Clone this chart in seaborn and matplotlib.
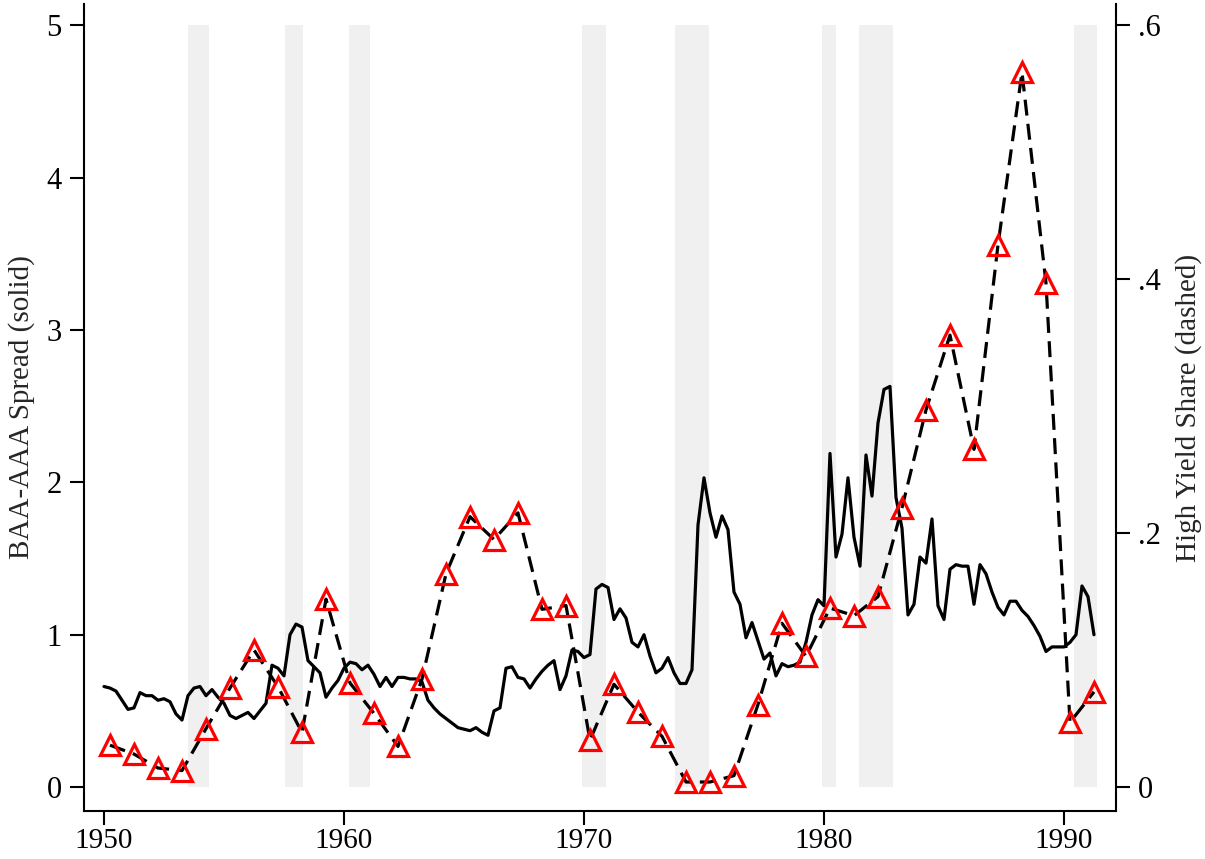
import matplotlib
matplotlib.use("Agg")
import matplotlib.pyplot as plt
import numpy as np
import seaborn as sns

# quarterly BAA-AAA spread, 1950Q1 - 1991Q2
spread = [
    0.66, 0.65, 0.63, 0.57, 0.51, 0.52, 0.62, 0.60, 0.60, 0.57,
    0.58, 0.56, 0.48, 0.44, 0.60, 0.65, 0.66, 0.60, 0.64, 0.59,
    0.55, 0.47, 0.45, 0.47, 0.49, 0.45, 0.50, 0.55, 0.80, 0.78,
    0.73, 1.00, 1.07, 1.05, 0.83, 0.79, 0.75, 0.59, 0.65, 0.70,
    0.78, 0.82, 0.81, 0.77, 0.80, 0.74, 0.66, 0.72, 0.66, 0.72,
    0.72, 0.71, 0.71, 0.69, 0.57, 0.52, 0.48, 0.45, 0.42, 0.39,
    0.38, 0.37, 0.39, 0.36, 0.34, 0.50, 0.52, 0.78, 0.79, 0.72,
    0.71, 0.65, 0.71, 0.76, 0.80, 0.83, 0.64, 0.73, 0.90, 0.89,
    0.85, 0.87, 1.30, 1.33, 1.31, 1.10, 1.17, 1.11, 0.95, 0.92,
    1.00, 0.86, 0.75, 0.78, 0.85, 0.75, 0.68, 0.68, 0.77, 1.72,
    2.03, 1.80, 1.64, 1.78, 1.69, 1.28, 1.20, 0.98, 1.08, 0.96,
    0.84, 0.88, 0.73, 0.81, 0.79, 0.80, 0.82, 0.95, 1.13, 1.23,
    1.19, 2.19, 1.51, 1.66, 2.03, 1.64, 1.45, 2.18, 1.91, 2.39,
    2.61, 2.63, 1.90, 1.70, 1.13, 1.20, 1.51, 1.47, 1.76, 1.19,
    1.10, 1.43, 1.46, 1.45, 1.45, 1.20, 1.46, 1.40, 1.28, 1.18,
    1.13, 1.22, 1.22, 1.16, 1.12, 1.06, 0.99, 0.89, 0.92, 0.92,
    0.92, 0.95, 1.00, 1.32, 1.25, 1.00,
]
quarters = 1950 + np.arange(len(spread)) / 4

# annual high yield share of issuance, 1950 - 1991
hy_share = [
    0.033, 0.026, 0.015, 0.013, 0.046, 0.078, 0.108, 0.079, 0.043, 0.148,
    0.082, 0.058, 0.032, 0.085, 0.168, 0.213, 0.195, 0.216, 0.140, 0.143,
    0.037, 0.081, 0.059, 0.040, 0.004, 0.004, 0.009, 0.065, 0.129, 0.103,
    0.141, 0.135, 0.150, 0.220, 0.297, 0.356, 0.266, 0.427, 0.563, 0.397,
    0.051, 0.075,
]
years = 1950.25 + np.arange(len(hy_share))

# NBER recessions (shaded)
rec_start = [1953.50, 1957.54, 1960.20, 1969.90, 1973.80, 1979.92, 1981.46, 1990.42]
rec_end = [1954.38, 1958.29, 1961.10, 1970.90, 1975.21, 1980.50, 1982.88, 1991.38]

sns.set_theme(style="white")
plt.rcParams["font.family"] = ["Liberation Serif", "DejaVu Serif"]

fig = plt.figure(figsize=(12.05, 8.59), dpi=100)
ax = fig.add_axes([84 / 1205, 1 - 811 / 859, 1032 / 1205, 807 / 859])
ax2 = ax.twinx()

for s, e in zip(rec_start, rec_end):
    ax.fill_between([s, e], 0, 5, color="#f0f0f0", lw=0, zorder=0)

sns.lineplot(x=quarters, y=spread, ax=ax, color="black", lw=2.3, zorder=3)
sns.lineplot(x=years, y=hy_share, ax=ax2, color="black", lw=2.3,
             linestyle=(0, (5.0, 2.6)), marker="^", markersize=14,
             markerfacecolor="none", markeredgecolor="red", markeredgewidth=2.3,
             zorder=4)

ax.set_xlim(1949.167, 1992.167)
ax.set_ylim(-0.157, 5.14)
ax2.set_ylim(-0.157 * 0.12, 5.14 * 0.12)

ax.set_xticks([1950, 1960, 1970, 1980, 1990])
ax.set_yticks([0, 1, 2, 3, 4, 5])
ax.set_yticklabels(["0", "1", "2", "3", "4", "5"])
ax2.set_yticks([0, 0.2, 0.4, 0.6])
ax2.set_yticklabels(["0", ".2", ".4", ".6"])

for a in (ax, ax2):
    a.spines["top"].set_visible(False)
    a.tick_params(direction="out", length=10, width=1.5, labelsize=22, pad=6,
                  colors="black")
    a.tick_params(axis="both", which="major", left=(a is ax), right=(a is ax2),
                  bottom=(a is ax))
ax.tick_params(axis="x", labelsize=21, pad=2)
ax.spines["right"].set_visible(False)
ax2.spines["left"].set_visible(False)
ax2.spines["bottom"].set_visible(False)
for side in ("left", "bottom"):
    ax.spines[side].set_color("black")
    ax.spines[side].set_linewidth(1.5)
ax2.spines["right"].set_color("black")
ax2.spines["right"].set_linewidth(1.5)

ax.set_xlabel("")
ax.set_ylabel("BAA-AAA Spread (solid)", fontsize=21, labelpad=8)
ax2.set_ylabel("High Yield Share (dashed)", fontsize=21, labelpad=10)
ax.set_facecolor("white")

fig.savefig("out.png", dpi=100)
